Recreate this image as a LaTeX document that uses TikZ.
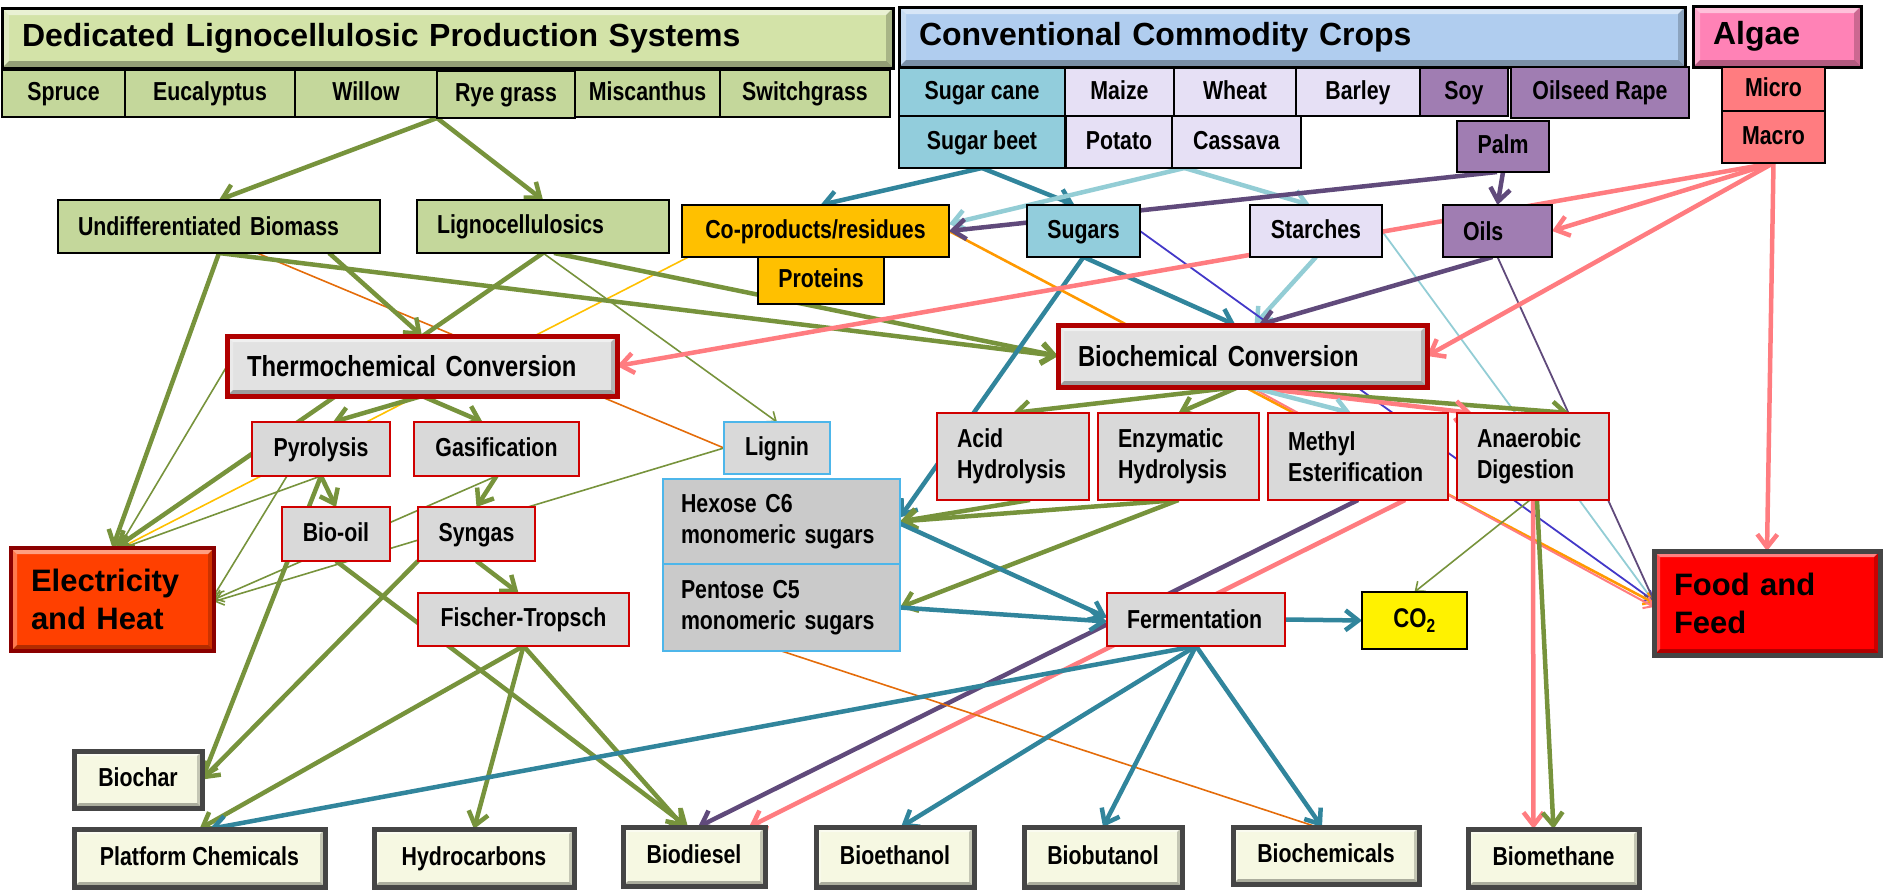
\documentclass[tikz,border=0pt]{standalone}
\usepackage{fontspec}
\setmainfont{Liberation Sans}
\newfontfamily\narrowfont[FakeStretch=0.82]{Liberation Sans}
\usetikzlibrary{arrows.meta,backgrounds,calc}

% fills
\definecolor{grnFill}{HTML}{C4D79B}
\definecolor{hdGreen}{HTML}{D3E3A8}
\definecolor{hdBlue}{HTML}{B0CDEF}
\definecolor{hdPink}{HTML}{FF82B6}
\definecolor{algFill}{HTML}{FF7C80}
\definecolor{sugFill}{HTML}{92CDDC}
\definecolor{stFill}{HTML}{E6E0F5}
\definecolor{oilFill}{HTML}{A07DB2}
\definecolor{coFill}{HTML}{FFC000}
\definecolor{procFill}{HTML}{D9D9D9}
\definecolor{monoFill}{HTML}{CACACA}
\definecolor{convFill}{HTML}{E2E2E2}
\definecolor{ligBlue}{HTML}{4DB6EA}
\definecolor{convRed}{HTML}{B00000}
\definecolor{procRed}{HTML}{D00000}
\definecolor{darkRed}{HTML}{8B0000}
\definecolor{elecFill}{HTML}{FF4000}
\definecolor{prodFill}{HTML}{F6F8E2}
\definecolor{frameGray}{HTML}{454545}
% connectors
\definecolor{cGreen}{HTML}{77933C}
\definecolor{cTeal}{HTML}{31859C}
\definecolor{cLTeal}{HTML}{93CDD5}
\definecolor{cPurple}{HTML}{604A7B}
\definecolor{cPink}{HTML}{FF7C80}
\definecolor{cOrange}{HTML}{FF9900}
\definecolor{cDkOrange}{HTML}{E46C0A}
\definecolor{cYellow}{HTML}{FFC000}
\definecolor{cBlue}{HTML}{4338C8}

\newcommand{\hdfont}{\fontsize{32}{36}\selectfont\bfseries}
\newcommand{\bigfont}{\fontsize{31}{38}\selectfont\bfseries}
\newcommand{\nfont}{\narrowfont\fontsize{26}{31}\selectfont\bfseries}
\newcommand{\cvfont}{\narrowfont\fontsize{29}{31}\selectfont\bfseries}
\newcommand{\cofont}{\narrowfont\fontsize{27}{30}\selectfont\bfseries}

\tikzset{
  bigtip/.tip={Straight Barb[length=13pt,width=20pt]},
  smalltip/.tip={Straight Barb[length=8pt,width=13pt]},
  bevel/.style={path picture={
      \coordinate (bvSW) at (path picture bounding box.south west);
      \coordinate (bvNE) at (path picture bounding box.north east);
      \coordinate (bvNW) at (path picture bounding box.north west);
      \coordinate (bvSE) at (path picture bounding box.south east);
      \fill[white,opacity=.5] (bvNW) -- (bvNE) -- ([shift={(-#1,-#1)}]bvNE) -- ([shift={(#1,-#1)}]bvNW) -- cycle;
      \fill[white,opacity=.3] (bvNW) -- (bvSW) -- ([shift={(#1,#1)}]bvSW) -- ([shift={(#1,-#1)}]bvNW) -- cycle;
      \fill[black,opacity=.3] (bvSW) -- (bvSE) -- ([shift={(-#1,#1)}]bvSE) -- ([shift={(#1,#1)}]bvSW) -- cycle;
      \fill[black,opacity=.2] (bvNE) -- (bvSE) -- ([shift={(-#1,#1)}]bvSE) -- ([shift={(-#1,-#1)}]bvNE) -- cycle;
    }},
  sz/.style 2 args={minimum width=#1pt, minimum height=#2pt, text height=19pt, text depth=5pt},
  lsz/.style 2 args={text width=#1pt, minimum height=#2pt, align=left, inner xsep=20pt},
  box/.style={rectangle, outer sep=0pt, inner ysep=2pt, inner xsep=4pt, font=\nfont, line width=1.4pt, draw=black},
  hdbox/.style={box, line width=3pt, font=\hdfont, bevel=7pt},
  grnbox/.style={box, fill=grnFill},
  sugbox/.style={box, fill=sugFill},
  stbox/.style={box, fill=stFill},
  oilbox/.style={box, fill=oilFill},
  algbox/.style={box, fill=algFill},
  cobox/.style={box, fill=coFill},
  convbox/.style={box, fill=convFill, draw=convRed, line width=5pt, bevel=6pt, font=\cvfont},
  procbox/.style={box, fill=procFill, draw=procRed, line width=1.6pt},
  monobox/.style={box, fill=monoFill, draw=ligBlue, line width=2.2pt},
  co2box/.style={box, fill=yellow, font=\cofont},
  elecbox/.style={box, fill=elecFill, draw=darkRed, line width=4pt, bevel=6pt, font=\bigfont},
  foodbox/.style={box, fill=red, draw=frameGray, line width=5pt, bevel=6pt, font=\bigfont},
  prodbox/.style={box, fill=prodFill, draw=frameGray, line width=5pt, bevel=5pt},
  % connectors
  arrG/.style={draw=cGreen, line width=4.5pt, -bigtip},
  arrGt/.style={draw=cGreen, line width=1.6pt, -smalltip},
  arrT/.style={draw=cTeal, line width=4.5pt, -bigtip},
  arrTL/.style={draw=cLTeal, line width=4.5pt, -bigtip},
  arrTLt/.style={draw=cLTeal, line width=1.8pt, -smalltip},
  arrP/.style={draw=cPurple, line width=4.5pt, -bigtip},
  arrPt/.style={draw=cPurple, line width=1.8pt, -smalltip},
  arrBt/.style={draw=cBlue, line width=1.8pt, -smalltip},
  arrK/.style={draw=cPink, line width=4.5pt, -bigtip},
  arrKt/.style={draw=cPink, line width=2pt, -smalltip},
  arrO/.style={draw=cOrange, line width=2.6pt, -smalltip},
  lnDO/.style={draw=cDkOrange, line width=1.6pt},
  lnY/.style={draw=cYellow, line width=1.6pt},
}

\begin{document}
\begin{tikzpicture}[x=1pt,y=-1pt]
\useasboundingbox (0,0) rectangle (1883,894);

% headers
\node[hdbox, fill=hdGreen, lsz={851}{60}] (dlps) at (447.5,38) {Dedicated Lignocellulosic Production Systems};
\node[hdbox, fill=hdBlue, lsz={746}{60}] (ccc) at (1292,37) {Conventional Commodity Crops};
\node[hdbox, fill=hdPink, lsz={128}{61}] (algae) at (1777,36.5) {Algae};

% lignocellulosic species
\node[grnbox, sz={123}{47}] (spruce) at (63.5,93.5) {Spruce};
\node[grnbox, sz={170}{47}] (eucal) at (210,93.5) {Eucalyptus};
\node[grnbox, sz={142}{47}] (willow) at (366,93.5) {Willow};
\node[grnbox, sz={138}{47}] (rye) at (506,94.5) {Rye grass};
\node[grnbox, sz={145}{47}] (misc) at (647.5,93.5) {Miscanthus};
\node[grnbox, sz={170}{47}] (switch) at (805,93.5) {Switchgrass};

% crops
\node[sugbox, sz={166}{48}] (sugarcane) at (982,92) {Sugar cane};
\node[stbox, sz={109}{48}] (maize) at (1119.5,92) {Maize};
\node[stbox, sz={122}{48}] (wheat) at (1235,92) {Wheat};
\node[stbox, sz={124}{48}] (barley) at (1358,92) {Barley};
\node[oilbox, sz={88}{48}] (soy) at (1464,92) {Soy};
\node[oilbox, sz={178}{51}] (rape) at (1600,92.5) {Oilseed Rape};
\node[sugbox, sz={166}{52}] (sugarbeet) at (982,142) {Sugar beet};
\node[stbox, sz={106}{52}] (potato) at (1119,142) {Potato};
\node[stbox, sz={129}{52}] (cassava) at (1236.5,142) {Cassava};
\node[oilbox, sz={92}{51}] (palm) at (1503,146.5) {Palm};
\node[algbox, sz={103}{44}] (micro) at (1773.5,89) {Micro};
\node[algbox, sz={103}{52}] (macro) at (1773.5,137) {Macro};

% feedstock classes
\node[grnbox, lsz={282}{53}] (undiff) at (219,226.5) {Undifferentiated Biomass};
\node[grnbox, lsz={212}{53}] (ligno) at (543,226.5) {Lignocellulosics};
\node[cobox, sz={267}{52}] (coprod) at (815.5,231) {Co-products/residues};
\node[cobox, sz={126}{47}] (proteins) at (821,280.5) {Proteins};
\node[sugbox, sz={113}{52}] (sugars) at (1083.5,231) {Sugars};
\node[stbox, sz={132}{52}] (starches) at (1316,231) {Starches};
\node[oilbox, lsz={69}{52}] (oils) at (1497.5,231) {Oils};

% conversion
\node[convbox, lsz={350}{60}] (thermo) at (422,366) {Thermochemical Conversion};
\node[convbox, lsz={329}{62}] (bio) at (1242.5,356) {Biochemical Conversion};

% processes
\node[procbox, sz={138}{54}] (pyro) at (321,449) {Pyrolysis};
\node[procbox, sz={165}{54}] (gasif) at (496.5,449) {Gasification};
\node[procbox, sz={108}{54}] (biooil) at (336,534) {Bio-oil};
\node[procbox, sz={117}{54}] (syngas) at (476.5,534) {Syngas};
\node[procbox, sz={211}{53}] (ft) at (523.5,619.5) {Fischer-Tropsch};
\node[procbox, lsz={112}{87}] (acid) at (1013,456.5) {Acid\\Hydrolysis};
\node[procbox, lsz={121}{87}] (enzym) at (1178.5,456.5) {Enzymatic\\Hydrolysis};
\node[procbox, lsz={140}{87}] (methyl) at (1358,456.5) {Methyl\\Esterification};
\node[procbox, lsz={112}{87}] (anaer) at (1533,456.5) {Anaerobic\\Digestion};
\node[procbox, lsz={138}{53}] (ferm) at (1196,619.5) {Fermentation};
\node[monobox, fill=procFill, sz={106}{52}] (lignin) at (777,448) {Lignin};
\node[monobox, lsz={201}{85}, inner xsep=18pt] (hexose) at (781.5,521.5) {Hexose C6\\monomeric sugars};
\node[monobox, lsz={201}{87}, inner xsep=18pt] (pentose) at (781.5,607.5) {Pentose C5\\monomeric sugars};
\node[co2box, sz={105}{57}] (co2) at (1414.5,620.5) {CO\textsubscript{2}};

% end uses
\node[elecbox, lsz={163}{103}] (elec) at (112.5,599.5) {Electricity\\and Heat};
\node[foodbox, lsz={186}{104}] (food) at (1767,603) {Food and\\Feed};
\node[prodbox, sz={128}{57}] (biochar) at (138,779.5) {Biochar};
\node[prodbox, sz={251}{58}] (platform) at (199.5,858) {Platform Chemicals};
\node[prodbox, sz={200}{58}] (hydro) at (474,858) {Hydrocarbons};
\node[prodbox, sz={142}{59}] (biodiesel) at (694,856.5) {Biodiesel};
\node[prodbox, sz={158}{60}] (bioeth) at (895,857) {Bioethanol};
\node[prodbox, sz={158}{60}] (biobut) at (1103,857) {Biobutanol};
\node[prodbox, sz={186}{57}] (biochem) at (1326,855.5) {Biochemicals};
\node[prodbox, sz={171}{58}] (biometh) at (1553.5,858) {Biomethane};

\begin{scope}[on background layer]
% lignocellulosic routes
\draw[arrG] (rye.south west) -- (undiff.north);
\draw[arrG] (rye.south west) -- (ligno.north);
\draw[lnDO] ([xshift=38pt]undiff.south) -- (lignin.west);
\draw[lnY] ([xshift=-127pt]coprod.south) -- ([xshift=8pt]elec.north);
\draw[arrG] (undiff.south) -- (elec.north);
\draw[arrG] ([xshift=110pt]undiff.south) -- (thermo.north);
\draw[arrG] (undiff.south) -- (bio.west);
\draw[arrG] (ligno.south) -- ([xshift=3pt]elec.north);
\draw[arrG] ([xshift=11pt]ligno.south) -- (bio.west);
\draw[arrGt] (ligno.south) -- (lignin.north);
\draw[arrGt] (thermo.west) -- ([xshift=6pt]elec.north);
\draw[arrG] (thermo.south) -- ([xshift=12pt]pyro.north);
\draw[arrG] (thermo.south) -- ([xshift=-14pt]gasif.north);
\draw[arrG] (pyro.south) -- (biooil.north);
\draw[arrG] (pyro.south) -- (biochar.east);
\draw[arrGt] (pyro.south) -- ([xshift=10pt]elec.north);
\draw[arrGt] ([xshift=-34pt]pyro.south) -- ([yshift=4pt]elec.east);
\draw[arrGt] (gasif.south) -- (elec.east);
\draw[arrGt] (lignin.west) -- ([yshift=-2pt]elec.east);
\draw[arrG] (gasif.south) -- (syngas.north);
\draw[arrG] (syngas.south west) -- (biochar.east);
\draw[arrG] (syngas.south) -- ([xshift=-5pt]ft.north);
\draw[arrG] (biooil.south) -- ([xshift=-6pt]biodiesel.north);
\draw[arrG] (ft.south) -- (platform.north);
\draw[arrG] (ft.south) -- (hydro.north);
\draw[arrG] (ft.south) -- ([xshift=-10pt]biodiesel.north);

% sugars and starches
\draw[arrT] (sugarbeet.south) -- ([xshift=5pt]coprod.north);
\draw[arrT] (sugarbeet.south) -- ([xshift=-9pt]sugars.north);
\draw[arrTL] ([xshift=-52pt]cassava.south) -- ([yshift=7pt]coprod.east);
\draw[arrTL] ([xshift=-52pt]cassava.south) -- ([xshift=-6pt]starches.north);
\draw[arrT] (sugars.south) -- ([xshift=-7pt]bio.north);
\draw[arrT] (sugars.south) -- ([yshift=4pt]hexose.east);
\draw[arrTL] (starches.south) -- ([xshift=12pt]bio.north);
\draw[arrBt] (sugars.east) -- ([yshift=2pt]food.west);
\draw[arrTLt] (starches.east) -- ([yshift=1pt]food.west);
\draw[arrO] (coprod.east) -- (food.west);

% oils and algae
\draw[arrP] (palm.south) -- (oils.north);
\draw[arrP] ([xshift=-6pt]palm.south) -- (coprod.east);
\draw[arrP] ([xshift=-5pt]oils.south) -- ([xshift=16pt]bio.north);
\draw[arrPt] (oils.south) -- ([yshift=2pt]food.west);
\draw[arrK] (macro.south) -- (oils.east);
\draw[arrK] (macro.south) -- (food.north);
\draw[arrK] (macro.south) -- (bio.east);
\draw[arrK] (macro.south) -- (thermo.east);

% biochemical routes
\draw[arrKt] ([xshift=8pt]bio.south) -- ([yshift=-4pt]food.west);
\draw[arrG] ([xshift=-4pt]bio.south) -- (acid.north);
\draw[arrG] ([xshift=-4pt]bio.south) -- (enzym.north);
\draw[arrG] ([xshift=-4pt]bio.south) -- ([xshift=36pt]anaer.north);
\draw[arrK] ([xshift=8pt]bio.south) -- ([xshift=-61pt]anaer.north);
\draw[arrTL] ([xshift=8pt]bio.south) -- ([xshift=-7pt]methyl.north);
\draw[arrG] ([xshift=17pt]acid.south) -- (hexose.east);
\draw[arrG] (enzym.south) -- (hexose.east);
\draw[arrG] (enzym.south) -- (pentose.east);
\draw[arrP] (methyl.south) -- ([xshift=4pt]biodiesel.north);
\draw[arrK] ([xshift=47pt]methyl.south) -- ([xshift=55pt]biodiesel.north);
\draw[arrK] (anaer.south) -- ([xshift=-20pt]biometh.north);
\draw[arrG] ([xshift=4pt]anaer.south) -- (biometh.north);
\draw[arrGt] ([xshift=-3pt]anaer.south) -- (co2.north);

% fermentation
\draw[lnDO] (pentose.south) -- ([xshift=-9pt]biochem.north);
\draw[arrT] ([yshift=-2pt]hexose.east) -- ([yshift=2pt]ferm.west);
\draw[arrT] (pentose.east) -- ([yshift=-2pt]ferm.west);
\draw[arrT] (ferm.east) -- (co2.west);
\draw[arrT] (ferm.south) -- ([xshift=10pt]platform.north);
\draw[arrT] (ferm.south) -- ([xshift=6pt]bioeth.north);
\draw[arrT] (ferm.south) -- (biobut.north);
\draw[arrT] (ferm.south) -- ([xshift=-4pt]biochem.north);
\end{scope}
\end{tikzpicture}
\end{document}
